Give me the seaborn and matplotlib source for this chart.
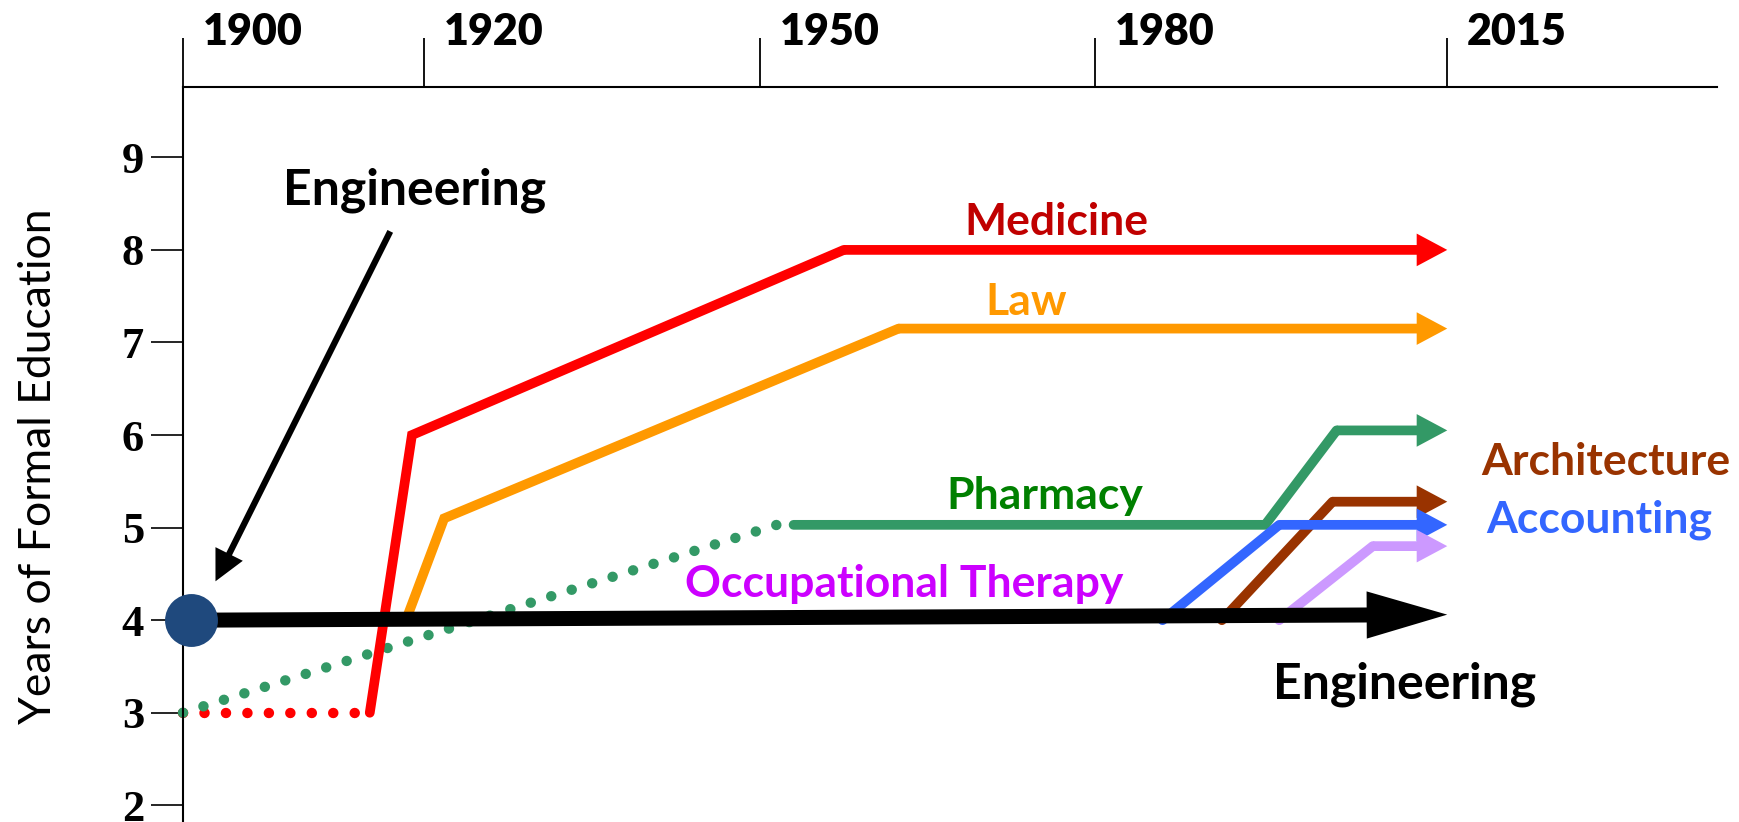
import numpy as np
import seaborn as sns
import matplotlib.pyplot as plt
from matplotlib.transforms import ScaledTranslation

# timeline ticks (hand spaced, like the original slide)
tick_years = [1900, 1920, 1950, 1980, 2015]
tick_pos = [183, 424, 760, 1095, 1447]
edu_ticks = [2, 3, 4, 5, 6, 7, 8, 9]

# years of formal education per profession
med_dot_x = [1900, 1915]
med_dot_y = [3, 3]
med_x = [1915.5, 1919, 1957.5, 2015]
med_y = [3, 6, 8, 8]

law_x = [1918.5, 1921.8, 1962.4, 2015]
law_y = [4.0, 5.1, 7.15, 7.15]

pharm_dot_x = [1900, 1951.5]
pharm_dot_y = [3, 5.03]
pharm_x = [1953, 1996.9, 2004, 2015]
pharm_y = [5.03, 5.03, 6.05, 6.05]

arch_x = [1992.6, 2003.6, 2015]
arch_y = [4.0, 5.28, 5.28]

acc_x = [1986.7, 1998.3, 2015]
acc_y = [4.0, 5.03, 5.03]

ot_x = [1998.3, 2007.6, 2015]
ot_y = [4.0, 4.8, 4.8]

eng_x = [1900.7, 2015]
eng_y = [4.0, 4.06]

sns.set_theme(style='white')
plt.rcParams['font.family'] = ['Lato', 'DejaVu Sans']
plt.rcParams['axes.edgecolor'] = 'black'


def fwd(x):
    xs = [1860] + tick_years + [2080]
    ps = [tick_pos[0] - 40 * 12.05] + tick_pos + [tick_pos[-1] + 65 * 10.06]
    return np.interp(x, xs, ps)


def inv(p):
    xs = [1860] + tick_years + [2080]
    ps = [tick_pos[0] - 40 * 12.05] + tick_pos + [tick_pos[-1] + 65 * 10.06]
    return np.interp(p, ps, xs)


fig = plt.figure(figsize=(17.39, 8.22), dpi=100)
ax = fig.add_axes([0.1052, 0.0, 0.8821, 0.8942])
ax.set_xscale('function', functions=(fwd, inv))


def line_with_arrow(xs, ys, color, lw=7, head_len=2.2, head_w=2.35, z=2):
    if len(xs) > 2:
        sns.lineplot(x=xs[:-1], y=ys[:-1], color=color, lw=lw, ax=ax,
                     estimator=None, sort=False, solid_joinstyle='miter', zorder=z)
    style = f'simple,head_length={head_len},head_width={head_w},tail_width={lw / 10}'
    ax.annotate('', xy=(xs[-1], ys[-1]), xytext=(xs[-2], ys[-2]),
                arrowprops=dict(arrowstyle=style, color=color, lw=0,
                                mutation_scale=10, shrinkA=0, shrinkB=0),
                zorder=z)


dots = (0, (0.01, 2.05))
sns.lineplot(x=med_dot_x, y=med_dot_y, color='#FF0000', lw=7.5, ax=ax,
             linestyle=dots, dash_capstyle='round', estimator=None, clip_on=False)
sns.lineplot(x=pharm_dot_x, y=pharm_dot_y, color='#339966', lw=7.5, ax=ax,
             linestyle=dots, dash_capstyle='round', estimator=None, clip_on=False)

line_with_arrow(med_x, med_y, '#FF0000')
line_with_arrow(law_x, law_y, '#FF9900')
line_with_arrow(pharm_x, pharm_y, '#339966')
line_with_arrow(arch_x, arch_y, '#993300')
line_with_arrow(acc_x, acc_y, '#3366FF')
line_with_arrow(ot_x, ot_y, '#CC99FF')

# engineering: flat at four years
ax.annotate('', xy=(eng_x[-1], eng_y[-1]), xytext=(eng_x[0], eng_y[0]),
            arrowprops=dict(arrowstyle='simple,head_length=5.8,head_width=3.4,tail_width=1.08',
                            color='black', lw=0, mutation_scale=10, shrinkA=0, shrinkB=0),
            zorder=5)
sns.scatterplot(x=eng_x[:1], y=eng_y[:1], s=1450, color='#1F497D', linewidth=0,
                ax=ax, zorder=6, clip_on=False)

# labels
lab = dict(fontsize=32, fontweight='bold', ha='center', va='center')
big = dict(fontsize=36, fontweight='bold', ha='center', va='center')
ax.text(1919.2, 8.64, 'Engineering', color='black', **big)
ax.annotate('', xy=(1902.7, 4.42), xytext=(1917.2, 8.2),
            arrowprops=dict(arrowstyle='simple,head_length=2.2,head_width=2.2,tail_width=0.45',
                            color='black', lw=0, mutation_scale=10, shrinkA=0, shrinkB=0))
ax.text(1976.5, 8.30, 'Medicine', color='#C00000', **lab)
ax.text(1973.8, 7.44, 'Law', color='#FF9900', **lab)
ax.text(1975.5, 5.34, 'Pharmacy', color='#008000', **lab)
ax.text(1962.9, 4.39, 'Occupational Therapy', color='#CC00FF', **lab)
ax.text(2018.4, 5.71, 'Architecture', color='#993300', fontsize=32,
        fontweight='bold', ha='left', va='center')
ax.text(2018.9, 5.08, 'Accounting', color='#3366FF', fontsize=32,
        fontweight='bold', ha='left', va='center')
ax.text(2010.8, 3.31, 'Engineering', color='black', **big)

# axes
ax.set_xlim(1900, 2041.8)
ax.set_ylim(1.82, 9.76)
ax.set_xticks(tick_years)
ax.set_xticklabels([str(y) for y in tick_years])
ax.set_yticks(edu_ticks)
ax.set_yticklabels([str(v) for v in edu_ticks], fontfamily='Liberation Serif',
                   fontweight='bold', fontsize=32)
ax.xaxis.tick_top()
ax.tick_params(axis='x', top=True, bottom=False, labeltop=True, labelbottom=False,
               direction='out', length=35, width=1.3, pad=-10, colors='black',
               labelsize=31)
ax.tick_params(axis='y', left=True, direction='out', length=23, width=1.2, pad=5,
               colors='black')
shift = ScaledTranslation(0.2, 0, fig.dpi_scale_trans)
for t in ax.get_xticklabels():
    t.set_ha('left')
    t.set_fontweight('heavy')
    t.set_transform(t.get_transform() + shift)

for side in ['right', 'bottom']:
    ax.spines[side].set_visible(False)
for side in ['top', 'left']:
    ax.spines[side].set_linewidth(1.5)

ax.set_ylabel('Years of Formal Education', fontsize=32, color='black')
ax.yaxis.set_label_coords(-0.081, 0.484)

fig.savefig('out.png', dpi=100)
